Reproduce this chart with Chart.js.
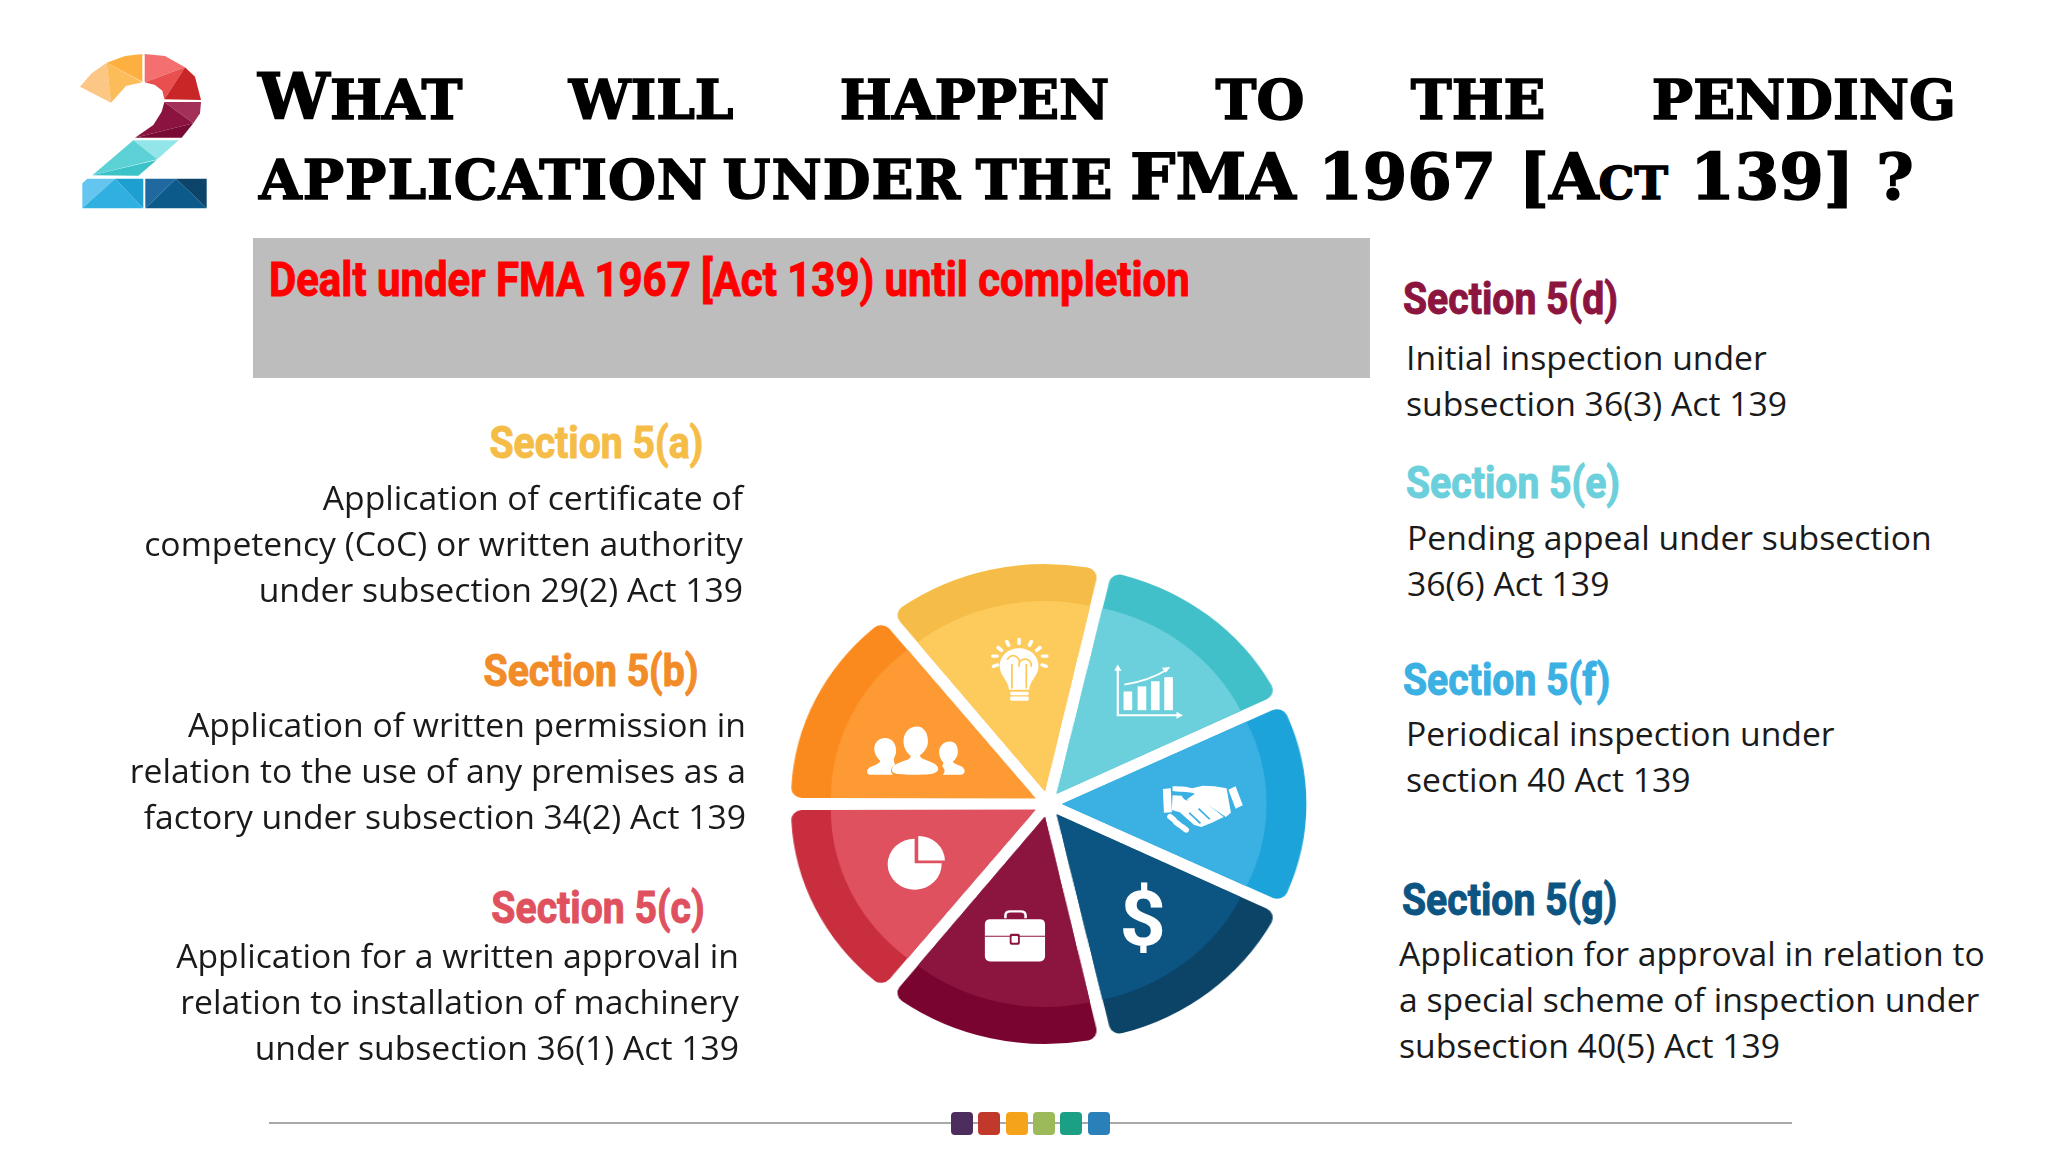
<!DOCTYPE html>
<html>
<head>
<meta charset="utf-8">
<title>Pending application under the FMA 1967</title>
<script src="https://cdn.jsdelivr.net/npm/chart.js@4"></script>
<style>
html, body { margin: 0; padding: 0; background: #fff; width: 2048px; height: 1152px; overflow: hidden; }
body { position: relative; font-family: "Open Sans", sans-serif; color: #1a1a1a; }
.abs { position: absolute; white-space: nowrap; }
.title { font-family: "DejaVu Serif", serif; font-weight: 700; font-variant: small-caps; color: #000; font-size: 79px; line-height: 80px; -webkit-text-stroke: 1.5px #000; }
.title .big { font-size: 64px; }
.head { font-family: "Roboto", sans-serif; font-weight: 700; font-size: 44px; line-height: 1; transform: scaleX(0.89); -webkit-text-stroke: 1px currentColor; }
.line { font-size: 33.7px; line-height: 1; }
canvas.pie { position: absolute; left: 747.5px; top: 504px; transform: scaleX(1.075); }
</style>
</head>
<body>
<svg class="abs" style="left:50px;top:30px" width="500" height="200" viewBox="0 0 1500 600">
  <polygon fill="#fcc685" points="90,170 125,130 170,98 183,218"/>
  <polygon fill="#fdb03f" points="170,98 225,78 277,72 277,155"/>
  <polygon fill="#fdbc5a" points="170,98 277,157 228,168 183,218"/>
  <polygon fill="#f47070" points="284,72 345,78 405,112 284,157"/>
  <polygon fill="#e94f4f" points="405,112 343,208 337,182 315,165 284,157"/>
  <polygon fill="#c92727" points="405,112 435,140 453,210 343,208"/>
  <polygon fill="#a33059" points="343,216 453,216 450,250 430,280"/>
  <polygon fill="#8b1340" points="343,216 430,280 255,323 310,285 335,245"/>
  <polygon fill="#780a35" points="255,323 430,280 395,323"/>
  <polygon fill="#92e5e8" points="250,331 386,331 322,388"/>
  <polygon fill="#5cd2d6" points="250,331 322,388 127,436"/>
  <polygon fill="#3bc3c8" points="127,436 320,390 265,437"/>
  <polygon fill="#63c5f0" points="97,460 112,446 195,446 97,535"/>
  <polygon fill="#2fb0e0" points="195,446 280,535 97,535"/>
  <polygon fill="#1e9fd2" points="195,446 280,446 280,535"/>
  <polygon fill="#2069a0" points="286,446 378,446 286,535"/>
  <polygon fill="#0b5a8a" points="378,446 470,535 286,535"/>
  <polygon fill="#0d4469" points="378,446 470,446 470,535"/>
</svg>
<div class="abs title" style="left:258px;top:52px;width:1698px;white-space:normal;text-align:justify;text-align-last:justify"><span class="big">W</span>hat will happen to the pending</div>
<div class="abs title" style="left:259px;top:132px"><span style="display:inline-block;width:871px;letter-spacing:1px;word-spacing:-14px">application under the</span><span class="big">FMA 1967 [Act 139] ?</span></div>
<div class="abs" style="left:253px;top:238px;width:1117px;height:140px;background:#bdbdbd"></div>
<div class="abs head" style="left:269px;top:256px;color:#f00;font-size:48px;transform:scaleX(0.873);transform-origin:left center">Dealt under FMA 1967 [Act 139) until completion</div>
<canvas class="pie" id="pieOuter" width="600" height="600"></canvas>
<canvas class="pie" id="pieInner" width="600" height="600"></canvas>
<svg class="abs" style="left:790px;top:564px" width="518" height="481" viewBox="62 70 1438 1415" preserveAspectRatio="none" fill="#fff" stroke="none">
  <!-- bulb -->
  <path d="M698 318c-32 0-54 24-54 52 0 30 24 40 26 70h56c2-30 26-40 26-70 0-28-22-52-54-52z"/>
  <rect x="673" y="446" width="52" height="10" rx="4"/><rect x="673" y="460" width="52" height="12" rx="4"/>
  <path d="M678 436v-72m40 72v-72M665 352a16 16 0 0 1 33 10v10M698 362a16 16 0 0 1 33 10" fill="none" stroke="#fdca5c" stroke-width="5"/>
  <g stroke="#fff" stroke-width="10" stroke-linecap="round"><path d="M698 292v12M664 298l5 11M732 298l-5 11M640 316l9 8M756 316l-9 8M625 341h12M775 341h-12M627 371l11-4M773 371l-11-4"/></g>
  <!-- growth chart -->
  <path d="M972 380v135h170" fill="none" stroke="#fff" stroke-width="6"/>
  <path d="M972 366l-10 18h20zM1153 515l-18-10v20z"/>
  <rect x="988" y="445" width="24" height="55"/><rect x="1027" y="430" width="24" height="70"/><rect x="1064" y="415" width="24" height="85"/><rect x="1101" y="403" width="24" height="97"/>
  <path d="M990 425c45-8 85-22 118-44" fill="none" stroke="#fff" stroke-width="5"/><path d="M1118 373l-24 2 11 15z"/>
  <!-- handshake -->
  <path d="M1097 732l22-2 3 70-22 2zM1279 734l20-10 20 56-20 10z"/>
  <path d="M1124 738c30 4 45 2 62 8l-22 16c4 14 22 12 38 2l70 50 14-12-12-72-34-6-32-2-30 8c-12-4-20-6-54-6z"/>
  <path d="M1124 750l-2 44 22 6 40 38 20 6 32-14 30-16-72-60-18 12c-14 4-24-6-26-14z"/>
  <g fill="#3ab0e3"><rect x="1172" y="800" width="44" height="5" transform="rotate(45 1172 800)"/><rect x="1198" y="788" width="44" height="5" transform="rotate(45 1198 788)"/></g>
  <g><rect x="1116" y="802" width="30" height="16" rx="8" transform="rotate(40 1116 802)"/><rect x="1132" y="818" width="30" height="16" rx="8" transform="rotate(40 1132 818)"/><rect x="1150" y="832" width="30" height="16" rx="8" transform="rotate(40 1150 832)"/></g>
  <!-- dollar -->
  <text x="1041" y="1190" font-family="Roboto, sans-serif" font-weight="700" font-size="225" text-anchor="middle" fill="#fff">$</text>
  <!-- briefcase -->
  <path d="M660 1112v-8c0-8 6-12 14-12h28c8 0 14 4 14 12v8" fill="none" stroke="#fff" stroke-width="7"/>
  <rect x="603" y="1115" width="167" height="124" rx="14"/>
  <path d="M603 1165h167" stroke="#8c153f" stroke-width="3"/>
  <rect x="672" y="1158" width="28" height="32" rx="5" fill="#8c153f"/><rect x="677" y="1164" width="18" height="20" rx="3" fill="#fff"/>
  <!-- pie icon -->
  <path d="M408 878v72h75a75 75 0 1 1-75-72z"/><path d="M418 870a74 74 0 0 1 74 72h-74z"/>
  <!-- people -->
  <path d="M326 582c-20 0-30 16-30 32 0 14 8 26 16 34 2 8-16 14-28 20-10 6-12 22 2 22h62c-8-8-8-18 2-26l4-6c-6-8-4-18 2-30 4-26-10-46-30-46z"/>
  <path d="M506 592c-18 0-30 14-30 32 0 14 6 24 12 30-2 8-2 8-4 10 8 8 10 18 2 26h50c14 0 14-18 2-24-10-6-22-8-24-14 8-8 14-18 14-30 0-18-8-30-22-30z"/>
  <path d="M415 548c-24 0-38 20-38 44 0 18 10 34 20 42 0 10-10 12-30 20-14 6-22 12-22 22s12 14 60 14 66-2 68-16c1-10-8-16-22-22-18-8-28-10-28-20 12-8 22-24 22-40 0-26-12-44-30-44z"/>
</svg>
<div class="abs" style="left:269px;top:1122px;width:1523px;height:2px;background:#a9a9a9"></div>
<div id="squares"></div>
<div id="notes"></div>
<script>
// every section is one slice, clockwise from the teal one
const sliceLabels = ['Section 5(e)', 'Section 5(f)', 'Section 5(g)', 'Section 5(d)', 'Section 5(c)', 'Section 5(b)', 'Section 5(a)'];
const sliceValues = [1, 1, 1, 1, 1, 1, 1];
const rimColors = ['#41c0c9', '#1ca3d9', '#0c4468', '#7a0430', '#c92e3e', '#fb8a1e', '#f5bd47'];
const faceColors = ['#6bd0dc', '#3ab0e3', '#0c5482', '#8c153f', '#e05160', '#fd9a33', '#fdca5c'];
const squareColors = ['#4d2c5e', '#c0392b', '#f5a31a', '#9cba5a', '#1ba085', '#2a80b9'];

const notes = [
    { head: 'Section 5(a)', color: '#f5bd47', lines: ['Application of certificate of', 'competency (CoC) or written authority', 'under subsection 29(2) Act 139'] },
    { head: 'Section 5(b)', color: '#f28c28', lines: ['Application of written permission in', 'relation to the use of any premises as a', 'factory under subsection 34(2) Act 139'] },
    { head: 'Section 5(c)', color: '#e05160', lines: ['Application for a written approval in', 'relation to installation of machinery', 'under subsection 36(1) Act 139'] },
    { head: 'Section 5(d)', color: '#8c153f', lines: ['Initial inspection under', 'subsection 36(3) Act 139'] },
    { head: 'Section 5(e)', color: '#6bd0dc', lines: ['Pending appeal under subsection', '36(6) Act 139'] },
    { head: 'Section 5(f)', color: '#3ab0e3', lines: ['Periodical inspection under', 'section 40 Act 139'] },
    { head: 'Section 5(g)', color: '#0c5482', lines: ['Application for approval in relation to', 'a special scheme of inspection under', 'subsection 40(5) Act 139'] }
];

// x, head centre y, first line centre y; the first three blocks are right aligned
const noteSpots = [
    { right: true, headX: 703, headY: 443, lineX: 743, lineY: 498 },
    { right: true, headX: 699, headY: 671, lineX: 746, lineY: 725 },
    { right: true, headX: 705, headY: 908, lineX: 739, lineY: 956 },
    { right: false, headX: 1403, headY: 299, lineX: 1406, lineY: 358 },
    { right: false, headX: 1406, headY: 483, lineX: 1407, lineY: 538 },
    { right: false, headX: 1403, headY: 680, lineX: 1406, lineY: 734 },
    { right: false, headX: 1402, headY: 900, lineX: 1399, lineY: 954 }
];

function addText(parent, cls, text, x, y, right, color) {
    const el = document.createElement('div');
    el.className = 'abs ' + cls;
    el.textContent = text;
    el.style.top = y + 'px';
    if (right) {
        el.style.right = (2048 - x) + 'px';
        el.style.transformOrigin = 'right center';
    } else {
        el.style.left = x + 'px';
        el.style.transformOrigin = 'left center';
    }
    if (color) el.style.color = color;
    parent.appendChild(el);
    el.style.top = (y - el.offsetHeight / 2) + 'px';
}

const notesBox = document.getElementById('notes');
notes.forEach((note, i) => {
    const spot = noteSpots[i];
    addText(notesBox, 'head', note.head, spot.headX, spot.headY, spot.right, note.color);
    note.lines.forEach((line, n) => {
        addText(notesBox, 'line', line, spot.lineX, spot.lineY + n * 46, spot.right);
    });
});

const squaresBox = document.getElementById('squares');
squareColors.forEach((color, i) => {
    const sq = document.createElement('div');
    sq.className = 'abs';
    sq.style.cssText = `left:${951 + i * 27.3}px;top:1112px;width:22px;height:23px;border-radius:4px;background:${color}`;
    squaresBox.appendChild(sq);
});

function drawPie(id, colors, radius, corner) {
    new Chart(document.getElementById(id), {
        type: 'pie',
        data: {
            labels: sliceLabels,
            datasets: [{
                data: sliceValues,
                backgroundColor: colors,
                borderWidth: 0,
                offset: 52,
                borderRadius: corner,
                hoverOffset: 52
            }]
        },
        options: {
            responsive: false,
            animation: false,
            devicePixelRatio: 1,
            events: [],
            rotation: 12.857,
            radius: radius,
            plugins: {
                legend: { display: false },
                tooltip: { enabled: false }
            }
        }
    });
}

drawPie('pieOuter', rimColors, 224.5, 10);
drawPie('pieInner', faceColors, 187.5, 0);
</script>
</body>
</html>
